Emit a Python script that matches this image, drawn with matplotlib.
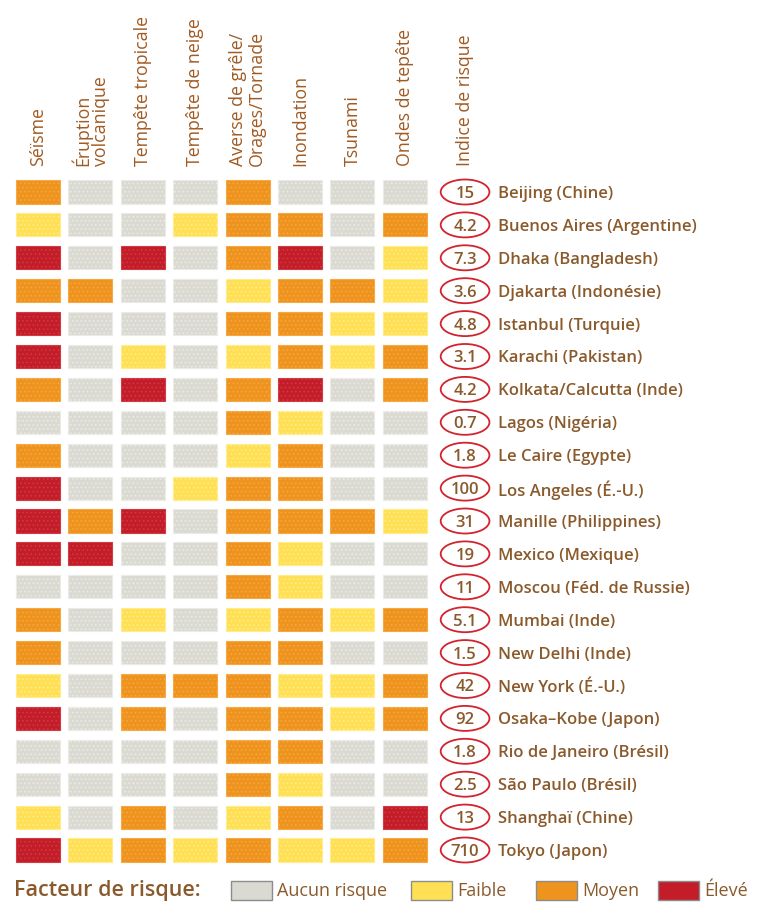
import matplotlib
matplotlib.use("Agg")
import matplotlib.pyplot as plt
from matplotlib.patches import Rectangle, Ellipse

# ---------------- data ----------------
hazards = ["Séïsme", "Éruption\nvolcanique", "Tempête tropicale", "Tempête de neige",
           "Averse de grêle/\nOrages/Tornade", "Inondation", "Tsunami", "Ondes de tepête"]
index_title = "Indice de risque"

cities = ["Beijing (Chine)", "Buenos Aires (Argentine)", "Dhaka (Bangladesh)",
          "Djakarta (Indonésie)", "Istanbul (Turquie)", "Karachi (Pakistan)",
          "Kolkata/Calcutta (Inde)", "Lagos (Nigéria)", "Le Caire (Egypte)",
          "Los Angeles (É.-U.)", "Manille (Philippines)", "Mexico (Mexique)",
          "Moscou (Féd. de Russie)", "Mumbai (Inde)", "New Delhi (Inde)",
          "New York (É.-U.)", "Osaka–Kobe (Japon)", "Rio de Janeiro (Brésil)",
          "São Paulo (Brésil)", "Shanghaï (Chine)", "Tokyo (Japon)"]

risk_index = ["15", "4.2", "7.3", "3.6", "4.8", "3.1", "4.2", "0.7", "1.8", "100",
              "31", "19", "11", "5.1", "1.5", "42", "92", "1.8", "2.5", "13", "710"]

# 0 = aucun, 1 = faible, 2 = moyen, 3 = élevé
levels = [
    [2, 0, 0, 0, 2, 0, 0, 0],
    [1, 0, 0, 1, 2, 2, 0, 2],
    [3, 0, 3, 0, 2, 3, 0, 1],
    [2, 2, 0, 0, 1, 2, 2, 1],
    [3, 0, 0, 0, 2, 2, 1, 1],
    [3, 0, 1, 0, 1, 2, 1, 2],
    [2, 0, 3, 0, 2, 3, 0, 2],
    [0, 0, 0, 0, 2, 1, 0, 0],
    [2, 0, 0, 0, 1, 2, 0, 0],
    [3, 0, 0, 1, 2, 2, 0, 0],
    [3, 2, 3, 0, 2, 2, 2, 1],
    [3, 3, 0, 0, 2, 1, 0, 0],
    [0, 0, 0, 0, 2, 1, 0, 0],
    [2, 0, 1, 0, 1, 2, 1, 2],
    [2, 0, 0, 0, 2, 2, 0, 0],
    [1, 0, 2, 2, 2, 1, 1, 2],
    [3, 0, 2, 0, 2, 2, 1, 2],
    [0, 0, 0, 0, 2, 2, 0, 0],
    [0, 0, 0, 0, 2, 1, 0, 0],
    [1, 0, 2, 0, 1, 2, 0, 3],
    [3, 1, 2, 1, 2, 1, 1, 2],
]

legend_title = "Facteur de risque:"
legend_labels = ["Aucun risque", "Faible", "Moyen", "Élevé"]

# ---------------- style ----------------
level_colors = ["#DADAD2", "#FFE055", "#EE931D", "#C21D29"]
level_hatch = ["#ECECE6", "#FFEC8C", "#F5A844", "#D23A44"]
text_brown = "#8A5A2C"
head_brown = "#A05A22"
oval_red = "#D2232E"
FONT = ["Open Sans", "DejaVu Sans"]
plt.rcParams["hatch.linewidth"] = 0.6

W, H = 759, 904
fig = plt.figure(figsize=(W / 100, H / 100), dpi=100)
ax = fig.add_axes([0, 0, 1, 1])

# column j centre at 38 + 52.4*j px ; row i centre at 193 + 32.9*i px
cx0, cdx = 38.0, 52.4
ry0, rdy = 193.0, 32.9
ax.set_xlim(-cx0 / cdx, (W - cx0) / cdx)
ax.set_ylim((H - ry0) / rdy, -ry0 / rdy)
ax.axis("off")

def px(x):
    return (x - cx0) / cdx

def py(y):
    return (y - ry0) / rdy

cw, ch = 0.84, 0.70
for i, row in enumerate(levels):
    for j, lv in enumerate(row):
        ax.add_patch(Rectangle((j - cw / 2, i - ch / 2), cw, ch,
                               facecolor=level_colors[lv], edgecolor=level_hatch[lv],
                               linewidth=0.8, hatch="...."))
    ox = len(hazards) + 0.15
    ax.add_patch(Ellipse((ox, i), 0.93, 0.76, facecolor="white",
                         edgecolor=oval_red, linewidth=1.3))
    ax.text(ox, i + 0.03, risk_index[i], ha="center", va="center",
            fontsize=12, fontweight="semibold", color=text_brown, family=FONT)
    ax.text(ox + 0.63, i + 0.03, cities[i], ha="left", va="center",
            fontsize=12, fontweight="semibold", color=text_brown, family=FONT)

# headers
for j, name in enumerate(hazards + [index_title]):
    x = j if j < len(hazards) else len(hazards) + 0.15
    ax.text(x, py(166), name, rotation=90, ha="center", va="bottom",
            fontsize=12.8, color=head_brown, family=FONT, linespacing=1.05,
            multialignment="left")

# legend
ly = py(891)
ax.text(px(14), ly, legend_title, ha="left", va="center", fontsize=15.5,
        fontweight="semibold", color=text_brown, family=FONT)
sw_x = [231, 411, 536, 658]
sw_w = 41 / cdx
sw_h = 19 / rdy
for k, lab in enumerate(legend_labels):
    x0 = px(sw_x[k])
    ax.add_patch(Rectangle((x0, ly - sw_h / 2), sw_w, sw_h,
                           facecolor=level_colors[k], edgecolor="#8C8C8C", linewidth=1.0))
    ax.text(x0 + sw_w + 5 / cdx, ly, lab, ha="left", va="center", fontsize=13,
            color=text_brown, family=FONT)

fig.savefig("out.png", dpi=100)
